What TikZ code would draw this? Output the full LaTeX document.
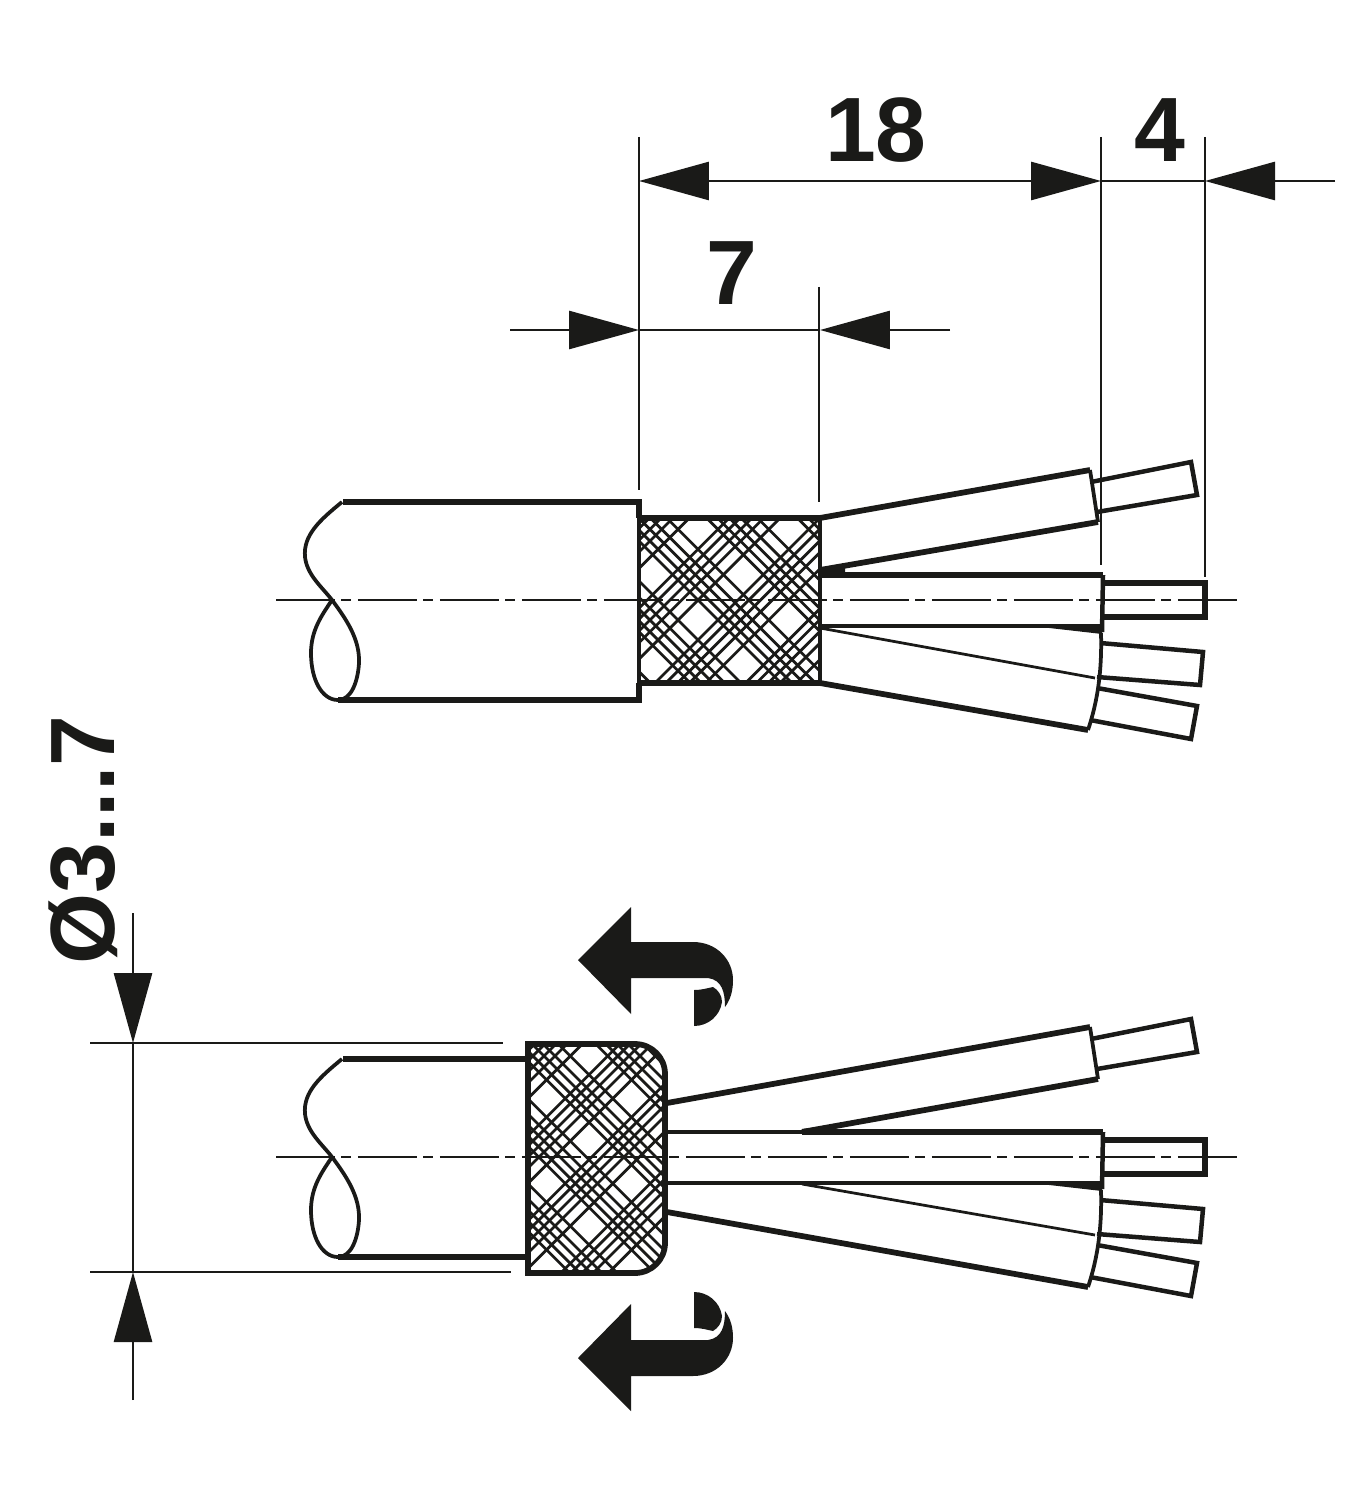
\documentclass[tikz,border=0pt]{standalone}
\usepackage{fontspec}
\setmainfont{Liberation Sans}
\usetikzlibrary{arrows.meta}
\definecolor{cableink}{HTML}{1A1A18}
\tikzset{
  heavy/.style={line width=.115cm, line join=miter},
  medium/.style={line width=.075cm},
  fine/.style={line width=.055cm},
  braidline/.style={line width=.055cm},
  dimline/.style={line width=.055cm},
  axisline/.style={line width=.055cm, dash pattern=on 1.18cm off .13cm on .2cm off .13cm},
  tipright/.style={-{Triangle[length=1.4cm,width=.76cm]}},
  tipboth/.style={{Triangle[length=1.4cm,width=.76cm]}-{Triangle[length=1.4cm,width=.76cm]}},
  dimtext/.style={font=\bfseries\fontsize{52}{52}\selectfont, inner sep=0pt, anchor=base}
}
% the two diagonal families of the braid, #1 and #2 = a gap of each, #3 = period, #4 #5 = y range
\newcommand{\braidhatch}[5]{%
  \foreach \k in {-3,...,3}{
    \foreach \o in {.22,.34,.47,.60,.78}{
      \pgfmathsetmacro{\cp}{#1+(\k+\o)*#3}
      \pgfmathsetmacro{\cm}{#2+(\k+\o)*#3}
      \draw[braidline] ({\cp-#4},#4) -- ({\cp-#5},#5);
      \draw[braidline] ({\cm+#4},#4) -- ({\cm+#5},#5);
    }
  }
}
% stripped ends of the four wires
\newcommand{\wireends}{%
  \coordinate (atop) at (1090,470);
  \coordinate (abot) at (1098,522);
  \coordinate (btop) at (1103,575);
  \coordinate (bbot) at (1102,626);
  \coordinate (ctop) at (1095,678);
  \coordinate (dbot) at (1088,730);
  \draw[line width=.09cm] (1091,482) -- (1191,462) -- (1197,495) -- (1097,512);
  \draw[heavy] (1103,583) -- (1205,583) -- (1205,617) -- (1103,617);
  \draw[line width=.09cm] (1100,643) -- (1203,652) -- (1200,685) -- (1097,677);
  \draw[line width=.09cm] (1097,688) -- (1197,706) -- (1191,739) -- (1090,720);
  \draw[medium] (atop) -- (abot);
  \draw[line width=.09cm] (btop) -- (1102,632);
  \draw[medium] (1101,633) .. controls (1102,670) and (1098,700) .. (dbot);
  \fill (1023,625) -- (1102,625) -- (1102,634) -- cycle;
}
% cut end of the jacket
\newcommand{\jacketbreak}{%
  \draw[medium] (342,502) .. controls (320,520) and (303,535) .. (305,557) .. controls (307,575) and (322,587) .. (332,600) .. controls (347,620) and (360,640) .. (359,663) .. controls (358,680) and (352,700) .. (338,700) .. controls (322,700) and (311,680) .. (311,653) .. controls (311,630) and (322,615) .. (332,600);
}
\newcommand{\turnarrow}{%
  \fill (578,960) -- (631,907) -- (631,942) -- (693,942) .. controls (717,942) and (733,960) .. (733,980) .. controls (733,992) and (730,1000) .. (725,1007) .. controls (725,992) and (722,980) .. (708,978) -- (631,978) -- (631,1014) -- cycle;
  \fill (694,990) .. controls (702,990) and (708,988) .. (713,987) .. controls (718,990) and (722,995) .. (722,1002) .. controls (720,1016) and (708,1026) .. (694,1026) -- cycle;
}
\newcommand{\capoutline}{(528,1044) [rounded corners=.6cm] -- (665,1044) -- (665,1273) [sharp corners] -- (528,1273) -- cycle}
\begin{document}
\begin{tikzpicture}[x=.02cm, y=-.02cm, color=cableink]
  \useasboundingbox (0,0) rectangle (1371,1500);

  % dimensions above the stripped cable
  \coordinate (ref a) at (639,137);
  \coordinate (ref a end) at (639,490);
  \coordinate (ref b) at (819,287);
  \coordinate (ref b end) at (819,502);
  \coordinate (ref c) at (1101,137);
  \coordinate (ref c end) at (1101,565);
  \coordinate (ref d) at (1205,137);
  \coordinate (ref d end) at (1205,577);
  \draw[dimline] (ref a) -- (ref a end);
  \draw[dimline] (ref b) -- (ref b end);
  \draw[dimline] (ref c) -- (ref c end);
  \draw[dimline] (ref d) -- (ref d end);
  \coordinate (long a) at (639,181);
  \coordinate (long c) at (1101,181);
  \coordinate (long d) at (1205,181);
  \coordinate (long free) at (1335,181);
  \draw[dimline,tipboth] (long a) -- (long c);
  \draw[dimline] (long c) -- (long d);
  \draw[dimline,tipright] (long free) -- (long d);
  \coordinate (short a) at (639,330);
  \coordinate (short b) at (820,330);
  \coordinate (short left) at (510,330);
  \coordinate (short right) at (950,330);
  \draw[dimline,tipright] (short left) -- (short a);
  \draw[dimline] (short a) -- (short b);
  \draw[dimline,tipright] (short right) -- (short b);
  \node[dimtext] (len18) at (876,162) {18};
  \node[dimtext] (len4) at (1160,162) {4};
  \node[dimtext] (len7) at (732,305) {7};

  % stripped cable
  \begin{scope}
    \clip (640,518) rectangle (820,683);
    \braidhatch{1318}{78}{90.7}{518}{683}
  \end{scope}
  \draw[medium] (639,518) -- (639,683);
  \draw[medium] (820,518) -- (820,683);
  \draw[heavy] (639,518) -- (820,518);
  \draw[heavy] (639,683) -- (820,683);
  \draw[heavy] (343,502) -- (639,502) -- (639,518);
  \draw[heavy] (338,700) -- (639,700) -- (639,683);
  \jacketbreak
  \wireends
  \draw[heavy] (820,518) -- (atop);
  \draw[heavy] (820,570) -- (abot);
  \draw[heavy] (820,575) -- (btop);
  \fill (820,568) -- (845,565) -- (845,575) -- (820,575) -- cycle;
  \draw[medium] (820,626) -- (bbot);
  \draw[fine] (820,628) -- (ctop);
  \draw[heavy] (820,683) -- (dbot);
  \draw[axisline] (276,600) -- (1240,600);

  % diameter dimension
  \coordinate (dia top left) at (90,1043);
  \coordinate (dia top right) at (503,1043);
  \coordinate (dia bot left) at (90,1272);
  \coordinate (dia bot right) at (511,1272);
  \coordinate (dia top) at (133,1043);
  \coordinate (dia bot) at (133,1272);
  \coordinate (dia free a) at (133,913);
  \coordinate (dia free b) at (133,1400);
  \draw[dimline] (dia top left) -- (dia top right);
  \draw[dimline] (dia bot left) -- (dia bot right);
  \draw[dimline] (dia top) -- (dia bot);
  \draw[dimline,tipright] (dia free a) -- (dia top);
  \draw[dimline,tipright] (dia free b) -- (dia bot);
  \node[dimtext, rotate=90, anchor=base west] (dia text) at (114,965) {Ø3...7};

  % cable with the braid folded back
  \begin{scope}[shift={(0,557)}]
    \jacketbreak
    \wireends
  \end{scope}
  \draw[heavy] (343,1059) -- (528,1059);
  \draw[heavy] (338,1257) -- (528,1257);
  \begin{scope}
    \clip \capoutline;
    \braidhatch{1730}{-552}{85}{1044}{1273}
  \end{scope}
  \draw[heavy] \capoutline;
  \draw[heavy] (667,1103) -- (atop);
  \draw[heavy] (802,1132) -- (abot);
  \draw[medium] (667,1132) -- (802,1132);
  \draw[heavy] (802,1132) -- (btop);
  \fill (802,1129) -- (827,1126) -- (827,1133) -- (802,1133) -- cycle;
  \draw[medium] (667,1183) -- (bbot);
  \draw[fine] (802,1184) -- (ctop);
  \draw[heavy] (667,1212) -- (dbot);
  \draw[axisline] (276,1157) -- (1240,1157);

  % fold arrows
  \turnarrow
  \begin{scope}[shift={(0,2318)}, yscale=-1]
    \turnarrow
  \end{scope}
\end{tikzpicture}
\end{document}
